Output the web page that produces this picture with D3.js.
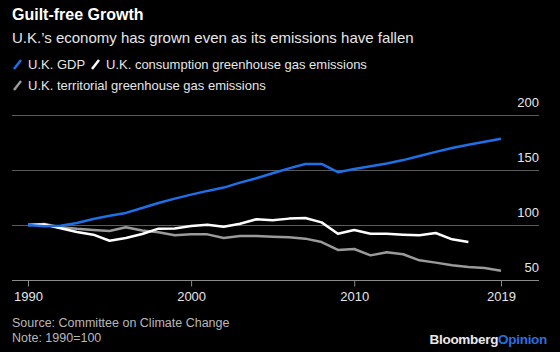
<!DOCTYPE html>
<html>
<head>
<meta charset="utf-8">
<script src="https://cdn.jsdelivr.net/npm/d3@7"></script>
<style>
  html, body { margin: 0; padding: 0; background: #000; }
  svg { display: block; font-family: "Liberation Sans", Arial, Helvetica, sans-serif; }
</style>
</head>
<body>
<svg id="chart" width="560" height="352"></svg>
<script>
const years = d3.range(1990, 2020);
const gdp = [100, 98.8, 99.3, 101.8, 105.5, 108.5, 111, 115.5, 120, 124,
             127.6, 131, 134, 138.5, 142.5, 147, 151.5, 155.5, 155.5, 148,
             151, 153.5, 156, 159, 162.7, 166.5, 170, 173, 175.7, 178.5];
const consumption = [100, 100.5, 97, 93.6, 91.2, 85.7, 88.2, 91.8, 96.7, 96.9,
                     99, 100.3, 98.5, 101.2, 105.2, 104.3, 105.8, 106.4, 102.4, 92.1,
                     95.5, 92, 92, 91.2, 90.6, 92.7, 87, 84.5];
const territorial = [100, 101, 98, 96.5, 95.5, 94.5, 98, 95, 93.5, 90.6,
                     91.5, 91.5, 88.2, 90, 90, 89.4, 88.8, 87.6, 84.5, 77.3,
                     78.2, 72.4, 75.2, 73.4, 67.9, 65.8, 63.4, 61.9, 61, 58.5];
const seriesNames = ["U.K. GDP", "U.K. consumption greenhouse gas emissions", "U.K. territorial greenhouse gas emissions"];
const seriesColors = ["#1f6fe6", "#ffffff", "#9a9a9a"];
const yTicks = [50, 100, 150, 200];
const xTicks = [1990, 2000, 2010, 2019];

const svg = d3.select("#chart");
svg.append("rect").attr("width", 560).attr("height", 352).attr("fill", "#000");

// Titles
svg.append("text").attr("x", 12).attr("y", 20)
  .attr("fill", "#fff").attr("font-size", 16).attr("font-weight", "bold")
  .text("Guilt-free Growth");
svg.append("text").attr("x", 12).attr("y", 43)
  .attr("fill", "#e6e6e6").attr("font-size", 15)
  .text("U.K.’s economy has grown even as its emissions have fallen");

// Legend
const legendItems = [
  {name: seriesNames[0], color: seriesColors[0], x: 13, y: 69},
  {name: seriesNames[1], color: seriesColors[1], x: 91, y: 69},
  {name: seriesNames[2], color: seriesColors[2], x: 13, y: 90}
];
legendItems.forEach(d => {
  const g = svg.append("g").attr("transform", `translate(${d.x},${d.y})`);
  g.append("line").attr("x1", 1).attr("y1", 0).attr("x2", 8).attr("y2", -9)
    .attr("stroke", d.color).attr("stroke-width", 2.5);
  g.append("text").attr("x", 15).attr("y", 0).attr("fill", "#e6e6e6")
    .attr("font-size", 13).text(d.name);
});

// Scales
const x = d3.scaleLinear().domain([1990, 2019]).range([28, 501]);
const y = d3.scaleLinear().domain([50, 200]).range([280, 115]);

// Gridlines
svg.append("g").selectAll("line").data(yTicks.filter(t => t !== 50)).join("line")
  .attr("x1", 12).attr("x2", 539)
  .attr("y1", d => y(d) + 0.5).attr("y2", d => y(d) + 0.5)
  .attr("stroke", "#5a5a5a").attr("stroke-width", 1);

// Y labels
svg.append("g").selectAll("text").data(yTicks).join("text")
  .attr("x", 539).attr("y", d => y(d) - 8)
  .attr("text-anchor", "end").attr("fill", "#e6e6e6").attr("font-size", 13)
  .text(d => d);

// X axis
const xAxis = d3.axisBottom(x).tickValues(xTicks).tickFormat(d3.format("d")).tickSize(6).tickSizeOuter(0);
const gx = svg.append("g").attr("transform", `translate(0,${y(50) + 0.5})`).call(xAxis);
gx.select(".domain").remove();
gx.insert("line", ":first-child").attr("x1", 12).attr("x2", 539).attr("y1", 0).attr("y2", 0)
  .attr("stroke", "#8a8a8a").attr("stroke-width", 1);
gx.selectAll(".tick line").attr("stroke", "#8a8a8a");
gx.selectAll(".tick text").attr("fill", "#e6e6e6").attr("font-size", 13)
  .attr("font-family", "Liberation Sans, Arial, sans-serif").attr("dy", "0.9em");

// Lines
const line = d3.line().x(d => x(d[0])).y(d => y(d[1]));
const data = [
  territorial.map((v, i) => [years[i], v]),
  consumption.map((v, i) => [years[i], v]),
  gdp.map((v, i) => [years[i], v])
];
const colors = [seriesColors[2], seriesColors[1], seriesColors[0]];
svg.append("g").selectAll("path").data(data).join("path")
  .attr("d", line).attr("fill", "none")
  .attr("stroke", (d, i) => colors[i]).attr("stroke-width", 2.5)
  .attr("stroke-linejoin", "round").attr("stroke-linecap", "butt");

// Footer
svg.append("text").attr("x", 12).attr("y", 327).attr("fill", "#b8b8b8")
  .attr("font-size", 12.5).text("Source: Committee on Climate Change");
svg.append("text").attr("x", 12).attr("y", 342).attr("fill", "#b8b8b8")
  .attr("font-size", 12.5).text("Note: 1990=100");
const logo = svg.append("text").attr("x", 547).attr("y", 344).attr("text-anchor", "end")
  .attr("font-size", 13.5).attr("font-weight", "bold").attr("letter-spacing", -0.3);
logo.append("tspan").attr("fill", "#e8e8e8").text("Bloomberg");
logo.append("tspan").attr("fill", "#2a6fe0").text("Opinion");
</script>
</body>
</html>
